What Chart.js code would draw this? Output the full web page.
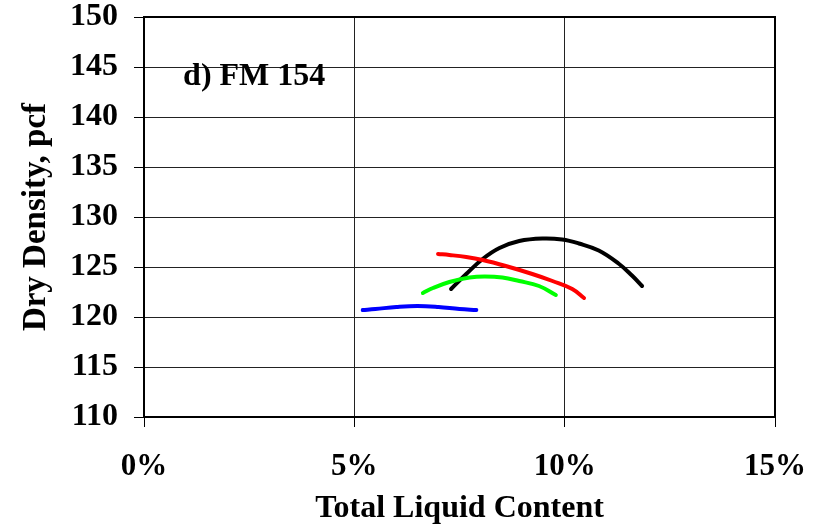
<!DOCTYPE html>
<html>
<head>
<meta charset="utf-8">
<script src="https://cdn.jsdelivr.net/npm/chart.js@4.4.1/dist/chart.umd.min.js"></script>
<style>
  html, body { margin: 0; padding: 0; background: #fff; }
  #wrap { width: 821px; height: 528px; }
</style>
</head>
<body>
<div id="wrap"><canvas id="chart" width="821" height="528"></canvas></div>
<script>
// compaction curves, liquid content (%) vs dry density (pcf)
const blueX  = [5.2, 5.5, 6.0, 6.5, 7.0, 7.5, 7.9];
const blueY  = [120.7, 120.8, 121.0, 121.1, 121.0, 120.8, 120.7];

const greenX = [6.63, 6.87, 7.26, 7.74, 8.1, 8.52, 8.92, 9.39, 9.79];
const greenY = [122.4, 122.9, 123.5, 123.95, 124.05, 123.95, 123.6, 123.1, 122.2];

const redX   = [6.99, 7.26, 7.66, 8.05, 8.6, 9.23, 9.71, 10.18, 10.46];
const redY   = [126.3, 126.2, 126.0, 125.7, 125.1, 124.3, 123.6, 122.8, 121.9];

const blackX = [7.3, 7.66, 8.05, 8.45, 8.92, 9.47, 9.94, 10.34, 10.81, 11.28, 11.6, 11.84];
const blackY = [122.8, 124.3, 125.8, 126.9, 127.6, 127.85, 127.75, 127.35, 126.65, 125.35, 124.15, 123.1];

const xTicks = [0, 5, 10, 15];
const yTicks = [110, 115, 120, 125, 130, 135, 140, 145, 150];

const panelLabel = 'd) FM 154';
const xTitle = 'Total Liquid Content';
const yTitle = 'Dry Density, pcf';

const serif = 'Liberation Serif';

function pts(xs, ys) {
  return xs.map((x, i) => ({ x: x, y: ys[i] }));
}

function series(xs, ys, color) {
  return {
    data: pts(xs, ys),
    borderColor: color,
    backgroundColor: color,
    borderWidth: 4,
    pointRadius: 0,
    tension: 0.4,
    borderCapStyle: 'round',
    borderJoinStyle: 'round',
    fill: false
  };
}

// frame around plot area + the panel label
const framePlugin = {
  id: 'frame',
  afterDraw(chart) {
    const { ctx, chartArea: a, scales } = chart;
    ctx.save();
    ctx.strokeStyle = '#000';
    ctx.lineWidth = 2;
    ctx.strokeRect(a.left, a.top, a.right - a.left, a.bottom - a.top);
    ctx.fillStyle = '#000';
    ctx.font = 'bold 32px "' + serif + '"';
    ctx.textAlign = 'left';
    ctx.textBaseline = 'alphabetic';
    ctx.fillText(panelLabel, scales.x.getPixelForValue(0.93), scales.y.getPixelForValue(143.2));
    ctx.restore();
  }
};

new Chart(document.getElementById('chart'), {
  type: 'line',
  data: {
    datasets: [
      series(blueX, blueY, '#0000ff'),
      series(greenX, greenY, '#00ff00'),
      series(redX, redY, '#ff0000'),
      series(blackX, blackY, '#000000')
    ]
  },
  options: {
    responsive: false,
    animation: false,
    layout: { padding: { top: 17, right: 46, left: 0, bottom: 0 } },
    plugins: {
      legend: { display: false },
      tooltip: { enabled: false }
    },
    scales: {
      x: {
        type: 'linear',
        min: 0,
        max: 15,
        afterBuildTicks(scale) {
          scale.ticks = xTicks.map(v => ({ value: v }));
        },
        afterFit(scale) {
          scale.height = 111;
          scale.paddingLeft = 0;
          scale.paddingRight = 0;
        },
        ticks: {
          color: '#000',
          padding: 21,
          maxRotation: 0,
          font: { family: serif, size: 31, weight: 'bold' },
          callback: v => v + '%'
        },
        grid: { color: '#222', lineWidth: 1, tickLength: 10, tickColor: '#000' },
        border: { color: '#000', width: 2 },
        title: {
          display: true,
          text: xTitle,
          color: '#000',
          font: { family: serif, size: 32, weight: 'bold' },
          padding: { top: 0, bottom: 0 }
        }
      },
      y: {
        type: 'linear',
        min: 110,
        max: 150,
        afterBuildTicks(scale) {
          scale.ticks = yTicks.map(v => ({ value: v }));
        },
        afterFit(scale) {
          scale.width = 144;
          scale.paddingTop = 0;
          scale.paddingBottom = 0;
        },
        ticks: {
          color: '#000',
          padding: 16,
          font: { family: serif, size: 32, weight: 'bold' }
        },
        grid: { color: '#222', lineWidth: 1, tickLength: 10, tickColor: '#000' },
        border: { color: '#000', width: 2 },
        title: {
          display: true,
          text: yTitle,
          color: '#000',
          font: { family: serif, size: 33, weight: 'bold' },
          padding: { top: 17, bottom: 0 }
        }
      }
    }
  },
  plugins: [framePlugin]
});
</script>
</body>
</html>
